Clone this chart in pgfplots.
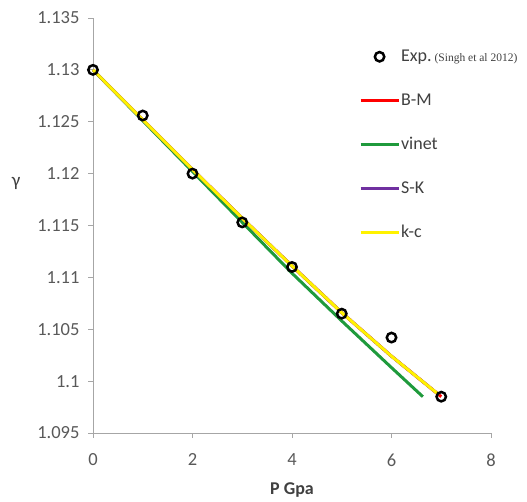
\documentclass[border=0pt]{standalone}
\usepackage{pgfplots}
\pgfplotsset{compat=1.18}
\usepackage{fontspec}
\setmainfont{Carlito}
\newfontfamily\timesfont{Liberation Serif}
\definecolor{axgray}{HTML}{A6A6A6}
\definecolor{txtgray}{HTML}{595959}
\definecolor{lblgray}{HTML}{404040}
\definecolor{bmred}{HTML}{FF0000}
\definecolor{vgreen}{HTML}{1F9A3C}
\definecolor{skpurple}{HTML}{7030A0}
\definecolor{kcyellow}{HTML}{FFF200}
\pgfplotsset{
  lineleg/.style={legend image code/.code={\draw[##1,mark=none] (0pt,0pt) -- (38pt,0pt);}},
  markleg/.style={legend image code/.code={\draw[##1] plot coordinates {(19pt,0pt)};}},
}

\begin{document}
\begin{tikzpicture}
\begin{axis}[
  at={(0,0)}, anchor=south west,
  scale only axis, width=398pt, height=415pt,
  xmin=0, xmax=8, ymin=1.095, ymax=1.135,
  xtick={0,2,4,6,8},
  ytick={1.095,1.1,1.105,1.11,1.115,1.12,1.125,1.13,1.135},
  scaled y ticks=false,
  /pgf/number format/assume math mode=true,
  axis x line*=bottom, axis y line*=left,
  axis line style={axgray, line width=0.8pt, -},
  tick style={axgray, line width=0.8pt},
  tick align=outside, major tick length=5pt,
  ticklabel style={font=\fontsize{18.5}{20}\selectfont, text=txtgray},
  xticklabel style={yshift=-12pt},
  yticklabel style={xshift=-5pt, /pgf/number format/.cd, fixed, precision=3},
  xlabel={P Gpa},
  xlabel style={font=\fontsize{18}{20}\selectfont\bfseries, text=lblgray, yshift=-10pt},
  ylabel={γ},
  every axis y label/.style={at={(axis description cs:-0.193,0.602)}, anchor=center,
    font=\fontsize{19}{20}\selectfont, text=lblgray},
  clip=false,
  set layers,
  legend cell align=left,
  legend style={draw=none, fill=none, inner sep=0pt,
    at={(axis description cs:0.668,0.93)}, anchor=north west,
    row sep=25pt, font=\fontsize{18}{20}\selectfont, text=lblgray,
    nodes={inner sep=1pt, text height=13pt, text depth=4pt}},
]
\addplot[only marks, mark=o, mark size=4.7pt, line width=2.5pt, black,
  on layer=axis foreground, markleg]
  coordinates {(0,1.1300) (1,1.1256) (2,1.1200) (3,1.1153) (4,1.1110) (5,1.1065) (6,1.1042) (7,1.0985)};
\addlegendentry{Exp.\,{\timesfont\fontsize{11.5}{12}\selectfont (Singh et al 2012)}}

\addplot[bmred, line width=3pt, mark=none, lineleg]
  coordinates {(0,1.1300) (1,1.1252) (2,1.1204) (3,1.1157) (4,1.1111) (5,1.1066) (6,1.1024) (7,1.0985)};
\addlegendentry{B-M}

\addplot[vgreen, line width=3pt, mark=none, lineleg]
  coordinates {(0,1.1300) (1,1.1251) (2,1.1202) (3,1.1153) (4,1.1104) (5,1.1058) (6,1.1013) (6.63,1.0985)};
\addlegendentry{vinet}

\addplot[skpurple, line width=3pt, mark=none, lineleg]
  coordinates {(0,1.1300) (1,1.1252) (2,1.1204) (3,1.1157) (4,1.1111) (5,1.1066) (6,1.1024) (6.95,1.0987)};
\addlegendentry{S-K}

\addplot[kcyellow, line width=3pt, mark=none, lineleg]
  coordinates {(0,1.1300) (1,1.1252) (2,1.1204) (3,1.1157) (4,1.1111) (5,1.1066) (6,1.1024) (6.95,1.0987)};
\addlegendentry{k-c}
\end{axis}
\pgfresetboundingbox
\useasboundingbox (-93pt,-69pt) rectangle (434pt,433pt);
\end{tikzpicture}
\end{document}
